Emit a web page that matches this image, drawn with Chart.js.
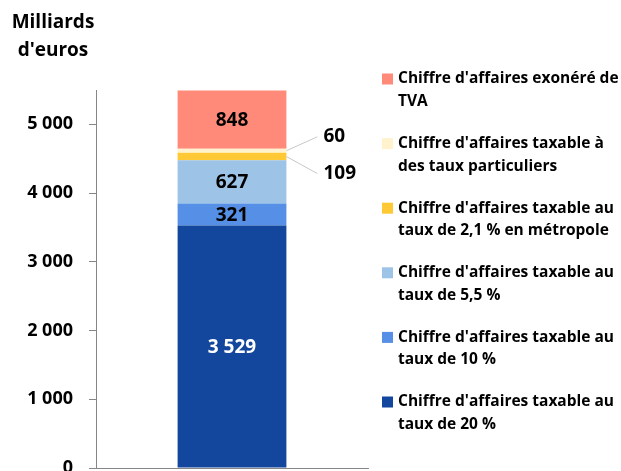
<!DOCTYPE html>
<html>
<head>
<meta charset="utf-8">
<script src="https://cdn.jsdelivr.net/npm/chart.js@4.4.0/dist/chart.umd.min.js"></script>
<style>
  html, body { margin: 0; padding: 0; background: #fff; }
</style>
</head>
<body>
<canvas id="chart" width="621" height="471"></canvas>
<script>
// data, bottom of the stack first
const categories = [''];
const seriesLabels = [
  ["Chiffre d'affaires taxable au", 'taux de 20 %'],
  ["Chiffre d'affaires taxable au", 'taux de 10 %'],
  ["Chiffre d'affaires taxable au", 'taux de 5,5 %'],
  ["Chiffre d'affaires taxable au", 'taux de 2,1 % en métropole'],
  ["Chiffre d'affaires taxable à", 'des taux particuliers'],
  ["Chiffre d'affaires exonéré de", 'TVA']
];
const seriesValues = [3529, 321, 627, 109, 60, 848];
const seriesColors = ['#12479d', '#5590e6', '#9dc3e6', '#ffc935', '#fff2cc', '#ff8a7a'];
const yTicks = [0, 1000, 2000, 3000, 4000, 5000];
const yMax = 5500;
const yTitle = ['Milliards', "d'euros"];

const FONT = '"Open Sans", Lato, sans-serif';

// small segments get their label outside, with a leader line
const outsideLabels = { 3: 17, 4: -14 };

const fmt = (v) => String(v).replace(/\B(?=(\d{3})+(?!\d))/g, ' ');

const labelsPlugin = {
  id: 'labels',
  afterDatasetsDraw(chart) {
    const ctx = chart.ctx;
    ctx.save();
    ctx.font = 'bold 19px ' + FONT;
    ctx.textBaseline = 'middle';
    chart.data.datasets.forEach((ds, i) => {
      const bar = chart.getDatasetMeta(i).data[0];
      const v = ds.data[0];
      if (i in outsideLabels) {
        const right = bar.x + bar.width / 2;
        const ty = bar.y + (bar.base - bar.y) / 2 + outsideLabels[i];
        ctx.strokeStyle = '#c8c8c8';
        ctx.lineWidth = 1;
        ctx.beginPath();
        ctx.moveTo(right, bar.y + (bar.base - bar.y) / 2);
        ctx.lineTo(right + 31, ty);
        ctx.stroke();
        ctx.fillStyle = '#000';
        ctx.textAlign = 'left';
        ctx.fillText(fmt(v), right + 37, ty);
      } else {
        ctx.fillStyle = i === 0 ? '#fff' : '#000';
        ctx.textAlign = 'center';
        ctx.fillText(fmt(v), bar.x, (bar.y + bar.base) / 2 + 1);
      }
    });
    ctx.restore();
  }
};

const legendPlugin = {
  id: 'sideLegend',
  afterDraw(chart) {
    const ctx = chart.ctx;
    ctx.save();
    ctx.font = 'bold 15.5px ' + FONT;
    ctx.textBaseline = 'middle';
    ctx.textAlign = 'left';
    const n = chart.data.datasets.length;
    for (let k = 0; k < n; k++) {
      const ds = chart.data.datasets[n - 1 - k];
      const y = 79 + k * 64.6;
      ctx.fillStyle = ds.backgroundColor;
      ctx.fillRect(382, y - 5.5, 11, 11);
      ctx.fillStyle = '#000';
      ds.label.forEach((line, j) => ctx.fillText(line, 398, y + j * 22.5));
    }
    // axis title
    ctx.font = 'bold 19px ' + FONT;
    ctx.textAlign = 'center';
    yTitle.forEach((line, j) => ctx.fillText(line, 53, 23 + j * 28));
    ctx.restore();
  }
};

new Chart(document.getElementById('chart'), {
  type: 'bar',
  data: {
    labels: categories,
    datasets: seriesValues.map((v, i) => ({
      label: seriesLabels[i],
      data: [v],
      backgroundColor: seriesColors[i],
      borderWidth: 0,
      barPercentage: 0.4,
      categoryPercentage: 1
    }))
  },
  options: {
    responsive: false,
    animation: false,
    layout: { padding: { top: 90, right: 253, bottom: 3, left: 0 } },
    plugins: { legend: { display: false }, tooltip: { enabled: false } },
    scales: {
      x: {
        stacked: true,
        grid: { display: false, drawTicks: false },
        ticks: { display: false },
        border: { display: true, color: '#868686', width: 1 },
        afterFit: (s) => { s.height = 0; }
      },
      y: {
        stacked: true,
        min: 0,
        max: yMax,
        afterBuildTicks: (s) => { s.ticks = yTicks.map((v) => ({ value: v })); },
        ticks: {
          padding: 16,
          color: '#000',
          font: { family: FONT, size: 18, weight: 'bold' },
          callback: (v) => fmt(v)
        },
        grid: { drawOnChartArea: false, drawTicks: true, tickLength: 7, color: '#868686' },
        border: { display: true, color: '#868686', width: 1 },
        afterFit: (s) => { s.width = 96; s.paddingTop = 0; s.paddingBottom = 0; }
      }
    }
  },
  plugins: [labelsPlugin, legendPlugin]
});
</script>
</body>
</html>
